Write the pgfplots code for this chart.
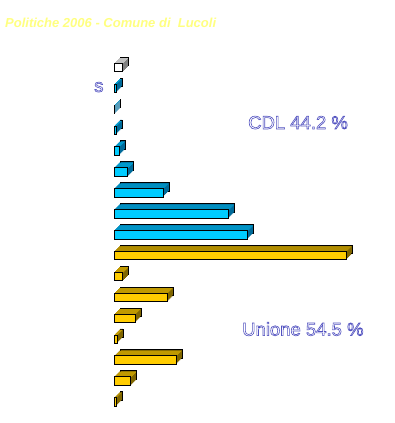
\documentclass[border=0pt]{standalone}
\usepackage{pgfplots}
\pgfplotsset{compat=1.18}
\usepackage{pgfplotstable}
\usepackage{fontspec}
\setmainfont{Liberation Sans}
\definecolor{cyanF}{HTML}{00CCFF}
\definecolor{cyanT}{HTML}{0099CC}
\definecolor{cyanS}{HTML}{006A99}
\definecolor{yelF}{HTML}{FFCC00}
\definecolor{yelT}{HTML}{C09900}
\definecolor{yelS}{HTML}{806600}
\definecolor{whF}{HTML}{FFFFFF}
\definecolor{whT}{HTML}{C0C0C0}
\definecolor{whS}{HTML}{808080}
\definecolor{lab}{HTML}{5050C0}
\definecolor{tit}{HTML}{FFFF80}

\pgfplotstableread{
y v
1 1.2
}\altri
\pgfplotstableread{
y v
2 0.3
3 0.1
4 0.3
5 0.7
6 1.9
7 6.7
8 15.7
9 18.3
}\cdl
\pgfplotstableread{
y v
10 31.8
11 1.2
12 7.3
13 2.9
14 0.4
15 8.5
16 2.3
17 0.3
}\unione

\newcommand\outlinetext[1]{\special{pdf:literal direct 1 Tr 0.6 w}#1\special{pdf:literal direct 0 Tr}}

\newcommand\threedbox[4]{%
  \addplot[fill=#4, draw=black, line width=0.8bp, xshift=6bp, yshift=6bp] table[x=v,y=y]{#1};
  \pgfplotsinvokeforeach{5,4,3,2,1}{%
    \addplot[fill=#4, draw=none, xshift=##1bp, yshift=##1bp] table[x=v,y=y]{#1};}
  \pgfplotsinvokeforeach{1,2,3,4,5}{%
    \addplot[fill=#3, draw=none, bar width=1.1bp, xshift=##1bp, yshift=##1bp+3.75bp] table[x=v,y=y]{#1};}
  \addplot[fill=#2, draw=black, line width=0.8bp] table[x=v,y=y]{#1};
}

\begin{document}
\begin{tikzpicture}
\path[use as bounding box, fill=white] (0,0) rectangle (395bp,423bp);
\begin{axis}[
  at={(114bp,365.95bp)}, anchor=north west,
  scale only axis, width=277.4bp, height=355.3bp,
  xmin=0, xmax=38, ymin=0.5, ymax=17.5, y dir=reverse,
  axis lines=none, clip=false,
  every axis plot/.append style={xbar, bar width=8.5bp, bar shift=0pt},
]
\threedbox{\altri}{whF}{whT}{whS}
\threedbox{\cdl}{cyanF}{cyanT}{cyanS}
\threedbox{\unione}{yelF}{yelT}{yelS}
\end{axis}
\node[anchor=base west, inner sep=0pt, text=tit, font=\fontsize{13bp}{15bp}\selectfont\bfseries\itshape] at (5bp,395.5bp) {Politiche 2006 - Comune di\ \ Lucoli};
\node[anchor=base west, inner sep=0pt, text=lab, font=\fontsize{18.5bp}{22bp}\selectfont] at (248bp,294bp) {\outlinetext{CDL 44.2 \%}};
\node[anchor=base west, inner sep=0pt, text=lab, font=\fontsize{18.5bp}{22bp}\selectfont] at (242bp,87.3bp) {\outlinetext{Unione 54.5 \%}};
\node[anchor=base west, inner sep=0pt, text=lab, font=\fontsize{18.5bp}{22bp}\selectfont] at (94bp,331bp) {\outlinetext{s}};
\end{tikzpicture}
\end{document}
